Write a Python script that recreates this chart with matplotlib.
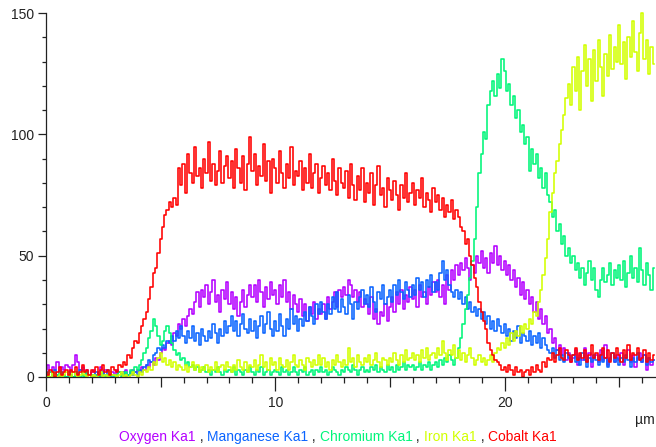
import numpy as np
import matplotlib
matplotlib.use("Agg")
import matplotlib.pyplot as plt
from matplotlib.ticker import MultipleLocator, FixedLocator

plt.rcParams['font.family'] = ['Liberation Sans', 'DejaVu Sans']

# Line-scan counts, one sample every 0.1 µm from 0 to 26.5 µm
step_um = 0.1

oxygen = [
    3, 5, 2, 4, 3, 6, 2, 4, 3, 5,
    4, 2, 5, 9, 6, 3, 4, 2, 3, 1,
    2, 3, 1, 2, 4, 1, 3, 2, 1, 2,
    1, 3, 2, 1, 2, 3, 1, 2, 3, 2,
    3, 2, 4, 3, 5, 4, 6, 5, 8, 7,
    10, 12, 11, 14, 15, 13, 18, 17, 22, 20,
    24, 21, 25, 28, 26, 31, 35, 29, 36, 33,
    38, 30, 35, 40, 31, 34, 27, 36, 32, 39,
    30, 35, 28, 33, 25, 31, 36, 29, 34, 38,
    33, 38, 31, 40, 35, 29, 37, 32, 39, 34,
    36, 30, 38, 33, 40, 31, 35, 28, 34, 30,
    27, 32, 25, 30, 23, 29, 26, 31, 24, 28,
    26, 30, 24, 33, 28, 31, 35, 29, 36, 33,
    37, 34, 40, 38, 33, 36, 31, 35, 29, 32,
    30, 26, 33, 24, 28, 22, 27, 25, 30, 23,
    29, 33, 27, 35, 30, 36, 28, 34, 31, 37,
    32, 36, 29, 38, 33, 35, 30, 37, 34, 39,
    35, 40, 33, 38, 30, 42, 36, 44, 40, 46,
    42, 47, 44, 49, 45, 40, 46, 43, 50, 47,
    52, 45, 49, 43, 51, 47, 54, 46, 50, 44,
    48, 42, 46, 40, 44, 37, 41, 34, 39, 32,
    36, 30, 33, 27, 31, 24, 28, 22, 25, 18,
    20, 14, 16, 11, 13, 9, 12, 7, 10, 6,
    8, 11, 5, 9, 7, 12, 6, 10, 4, 8,
    9, 6, 11, 7, 13, 5, 8, 10, 6, 9,
    7, 10, 5, 8, 11, 6, 9, 4, 8, 10,
    6, 9, 3, 8, 5, 7,
]

manganese = [
    1, 2, 0, 1, 3, 1, 0, 2, 1, 0,
    2, 1, 0, 2, 1, 3, 1, 0, 2, 1,
    0, 1, 2, 1, 0, 2, 1, 3, 1, 0,
    1, 0, 2, 1, 2, 0, 1, 2, 1, 2,
    1, 3, 2, 4, 5, 7, 6, 9, 10, 12,
    11, 13, 12, 15, 14, 17, 15, 19, 16, 21,
    17, 14, 19, 16, 21, 15, 18, 13, 20, 17,
    15, 19, 16, 22, 18, 14, 20, 17, 23, 18,
    21, 25, 19, 23, 17, 22, 26, 20, 18, 24,
    19, 23, 16, 21, 25, 18, 22, 27, 20, 17,
    23, 19, 26, 21, 17, 24, 20, 28, 22, 25,
    19, 24, 21, 27, 23, 29, 25, 22, 30, 26,
    31, 27, 24, 30, 26, 33, 28, 35, 27, 32,
    29, 26, 34, 30, 24, 31, 28, 33, 36, 30,
    34, 29, 37, 31, 27, 35, 32, 38, 30, 33,
    36, 31, 38, 34, 40, 35, 32, 39, 36, 33,
    38, 34, 41, 36, 39, 33, 40, 37, 42, 35,
    39, 36, 43, 48, 40, 44, 38, 35, 33, 36,
    32, 35, 30, 33, 28, 31, 27, 29, 25, 28,
    24, 27, 22, 25, 20, 23, 19, 24, 21, 18,
    22, 17, 20, 15, 19, 16, 21, 14, 18, 17,
    15, 19, 13, 17, 14, 18, 12, 16, 13, 11,
    10, 12, 8, 11, 7, 9, 6, 10, 8, 7,
    9, 6, 8, 5, 10, 7, 4, 8, 6, 9,
    7, 5, 9, 6, 8, 4, 7, 10, 6, 8,
    5, 8, 6, 9, 7, 4, 8, 6, 10, 7,
    6, 9, 5, 8, 6, 7,
]

chromium = [
    1, 0, 2, 1, 0, 1, 2, 0, 1, 0,
    0, 1, 0, 2, 1, 0, 1, 0, 2, 1,
    1, 0, 1, 0, 2, 1, 0, 1, 0, 1,
    0, 1, 2, 0, 1, 2, 1, 3, 2, 4,
    3, 5, 7, 10, 12, 16, 19, 24, 21, 17,
    13, 15, 19, 21, 18, 14, 11, 9, 10, 7,
    8, 5, 6, 4, 5, 3, 4, 2, 3, 4,
    2, 3, 1, 3, 2, 4, 2, 1, 3, 2,
    3, 2, 4, 1, 3, 2, 1, 3, 2, 4,
    2, 1, 3, 2, 4, 1, 2, 3, 1, 2,
    3, 2, 1, 4, 2, 3, 1, 2, 4, 2,
    1, 3, 2, 4, 1, 2, 3, 1, 3, 2,
    4, 2, 3, 1, 2, 4, 3, 2, 1, 3,
    2, 4, 3, 2, 5, 3, 1, 3, 4, 2,
    3, 2, 4, 3, 5, 2, 4, 3, 2, 5,
    3, 4, 2, 5, 3, 4, 6, 3, 5, 4,
    5, 3, 4, 6, 3, 5, 4, 6, 3, 5,
    6, 4, 7, 5, 8, 6, 9, 7, 5, 8,
    12, 16, 22, 28, 34, 41, 48, 57, 70, 84,
    92, 101, 98, 112, 118, 122, 116, 125, 119, 131,
    126, 118, 121, 112, 116, 107, 110, 101, 104, 96,
    99, 85, 94, 88, 92, 82, 86, 78, 84, 75,
    72, 66, 69, 60, 63, 55, 58, 50, 53, 47,
    50, 44, 47, 41, 45, 38, 43, 48, 40, 45,
    36, 33, 40, 45, 39, 42, 47, 38, 44, 41,
    46, 40, 48, 37, 43, 50, 41, 45, 39, 53,
    44, 38, 47, 42, 36, 45,
]

iron = [
    0, 1, 0, 2, 1, 0, 1, 0, 1, 2,
    1, 0, 2, 1, 0, 1, 2, 1, 0, 1,
    0, 1, 0, 1, 2, 0, 1, 0, 2, 1,
    1, 0, 1, 2, 0, 1, 0, 1, 2, 1,
    0, 2, 1, 3, 2, 4, 3, 6, 5, 8,
    10, 6, 8, 5, 7, 4, 6, 3, 5, 4,
    3, 5, 2, 4, 6, 3, 5, 2, 4, 3,
    5, 2, 4, 3, 6, 2, 4, 5, 3, 6,
    4, 2, 5, 3, 7, 4, 3, 6, 2, 5,
    4, 7, 3, 5, 9, 4, 6, 3, 8, 5,
    6, 3, 8, 5, 4, 7, 3, 6, 9, 5,
    4, 7, 5, 3, 8, 6, 4, 7, 5, 9,
    5, 8, 4, 6, 3, 7, 5, 9, 6, 4,
    7, 5, 12, 6, 8, 4, 9, 6, 5, 8,
    6, 9, 5, 7, 10, 6, 4, 8, 7, 5,
    8, 6, 10, 7, 5, 9, 6, 11, 7, 8,
    10, 7, 9, 6, 11, 8, 12, 7, 9, 10,
    8, 12, 9, 15, 10, 7, 11, 9, 13, 8,
    11, 7, 10, 6, 9, 12, 8, 5, 7, 9,
    6, 8, 5, 7, 9, 6, 10, 12, 11, 14,
    12, 16, 13, 18, 15, 19, 17, 21, 18, 22,
    20, 24, 22, 27, 25, 31, 36, 42, 49, 57,
    68, 76, 84, 89, 96, 102, 108, 115, 121, 112,
    128, 118, 132, 110, 126, 137, 120, 131, 114, 135,
    122, 139, 128, 116, 133, 124, 141, 127, 136, 130,
    145, 129, 138, 123, 140, 132, 147, 134, 126, 142,
    150, 131, 139, 125, 136, 129,
]

cobalt = [
    2, 1, 3, 2, 0, 2, 4, 1, 2, 3,
    1, 3, 2, 4, 1, 2, 5, 2, 3, 1,
    3, 2, 4, 1, 3, 5, 2, 3, 1, 4,
    3, 2, 5, 4, 6, 5, 9, 8, 12, 15,
    14, 18, 21, 24, 27, 32, 37, 43, 45, 51,
    57, 62, 67, 69, 72, 70, 74, 71, 86, 79,
    88, 76, 92, 84, 80, 95, 83, 86, 78, 90,
    84, 97, 81, 88, 79, 85, 93, 80, 87, 91,
    82, 89, 78, 94, 86, 80, 91, 77, 88, 99,
    85, 92, 79, 87, 83, 96, 81, 89, 76, 90,
    86, 80, 93, 84, 78, 88, 82, 95, 79, 85,
    83, 89, 77, 86, 80, 92, 78, 84, 88, 76,
    82, 87, 79, 84, 77, 90, 81, 75, 86, 80,
    78, 85, 74, 88, 79, 73, 83, 77, 86, 72,
    80, 76, 84, 71, 79, 87, 75, 78, 70, 82,
    77, 73, 81, 75, 69, 79, 74, 84, 72, 76,
    80, 71, 77, 74, 82, 70, 76, 73, 68, 78,
    72, 75, 69, 74, 66, 71, 68, 73, 65, 69,
    66, 62, 60, 55, 57, 50, 46, 41, 37, 31,
    27, 23, 20, 14, 11, 9, 7, 6, 5, 3,
    4, 2, 5, 3, 1, 4, 2, 3, 0, 2,
    3, 1, 4, 2, 5, 3, 2, 6, 4, 8,
    7, 10, 6, 9, 12, 8, 7, 11, 9, 6,
    9, 12, 7, 10, 8, 11, 6, 9, 13, 8,
    10, 7, 9, 12, 8, 11, 6, 10, 8, 12,
    9, 6, 11, 8, 13, 7, 10, 9, 12, 7,
    8, 11, 6, 10, 7, 9,
]

names = ["Oxygen Ka1", "Manganese Ka1", "Chromium Ka1", "Iron Ka1", "Cobalt Ka1"]
colors = ["#B400FF", "#0A64FF", "#00F57A", "#D2FF00", "#FF0000"]
series = [oxygen, manganese, chromium, iron, cobalt]

x_ticks_major = [0, 10, 20]
y_ticks_major = [0, 50, 100, 150]

W, H = 656, 447
fig = plt.figure(figsize=(W / 100, H / 100), dpi=100)
ax = fig.add_axes([46 / W, 70 / H, 610 / W, 368.6 / H])

for vals, col in zip(series, colors):
    xs = np.arange(len(vals)) * step_um
    ax.plot(xs, vals, color=col, lw=1.15, drawstyle="steps-mid")

ax.set_xlim(0, 26.6)
ax.set_ylim(0, 152)

for s in ("top", "right"):
    ax.spines[s].set_visible(False)
for s in ("left", "bottom"):
    ax.spines[s].set_color("#222222")
    ax.spines[s].set_linewidth(0.9)
ax.spines["left"].set_bounds(0, 150)

ax.xaxis.set_major_locator(FixedLocator(x_ticks_major))
ax.xaxis.set_minor_locator(MultipleLocator(1))
ax.yaxis.set_major_locator(FixedLocator(y_ticks_major))
ax.yaxis.set_minor_locator(MultipleLocator(10))

ax.tick_params(axis="x", which="major", length=10, width=0.9, pad=4,
               labelsize=10, colors="#222222")
ax.tick_params(axis="x", which="minor", length=4.5, width=0.9, colors="#222222")
ax.tick_params(axis="y", which="major", length=5.5, width=0.9, pad=3,
               labelsize=10, colors="#222222")
ax.tick_params(axis="y", which="minor", length=3, width=0.9, colors="#222222")

# medium-length ticks at the half decades
fig.canvas.draw()
locs = ax.xaxis.get_minorticklocs()
for t, loc in zip(ax.xaxis.get_minor_ticks(), locs):
    if abs(loc % 10 - 5) < 1e-6:
        t.tick1line.set_markersize(7.5)

fig.text(655 / W, 1 - 420 / H, "µm", ha="right", va="center",
         fontsize=10, color="#222222")

# colored series names along the bottom, separated by commas
renderer = fig.canvas.get_renderer()
xpix = 119
ypix = H - 437
for i, (name, col) in enumerate(zip(names, colors)):
    t = fig.text(xpix / W, ypix / H, name, color=col, fontsize=10,
                 ha="left", va="center")
    xpix = t.get_window_extent(renderer).x1
    if i < len(names) - 1:
        c = fig.text(xpix / W, ypix / H, " , ", color="#222222", fontsize=10,
                     ha="left", va="center")
        xpix = c.get_window_extent(renderer).x1

fig.savefig("out.png", dpi=100)
